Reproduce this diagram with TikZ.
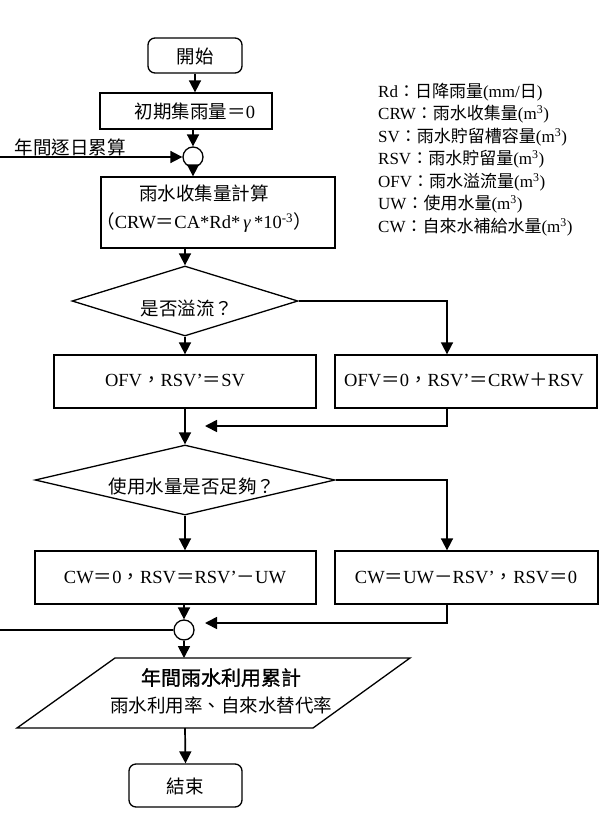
\documentclass[tikz,border=0pt]{standalone}
\usepackage{fontspec}
\setmainfont{Liberation Serif}
\newfontfamily\cjk{Noto Sans CJK TC}
\newfontfamily\cjkbold[FakeBold=1.2]{Noto Sans CJK TC}
\usetikzlibrary{arrows.meta,shapes.geometric}
\newcommand{\zh}[1]{{\cjk #1}}
\begin{document}
\begin{tikzpicture}[x=1pt,y=-1pt,
  shapebox/.style={draw,line width=1.3pt,inner sep=0pt,rectangle},
  roundbox/.style={shapebox,rounded corners=7pt},
  dia/.style={draw,line width=1.3pt,inner sep=0pt,diamond},
  joint/.style={draw,line width=1.3pt,inner sep=0pt,circle,minimum size=20pt},
  conn/.style={line width=1.7pt,-{Triangle[length=12pt,width=12pt]}},
  plainline/.style={line width=1.7pt},
  txt/.style={font=\fontsize{18.5}{22}\selectfont,inner sep=0pt,align=center},
  legendtxt/.style={font=\fontsize{17}{22.5}\selectfont,inner sep=0pt,align=left}]
\useasboundingbox (0,0) rectangle (604,814);

% shapes
\node[roundbox,minimum width=94pt,minimum height=35pt] (start) at (195,55.5) {};
\node[shapebox,minimum width=172pt,minimum height=36pt] (init) at (186,111) {};
\node[joint] (c1) at (193,157) {};
\node[shapebox,minimum width=234pt,minimum height=71pt] (crw) at (218,212.5) {};
\node[dia,minimum width=226pt,minimum height=70pt] (d1) at (185,301) {};
\node[shapebox,minimum width=262pt,minimum height=53pt] (b1L) at (185,381.5) {};
\node[shapebox,minimum width=262pt,minimum height=53pt] (b1R) at (466,381.5) {};
\node[dia,minimum width=300pt,minimum height=70pt] (d2) at (185,480) {};
\node[shapebox,minimum width=281pt,minimum height=53pt] (b2L) at (175.5,577.5) {};
\node[shapebox,minimum width=263pt,minimum height=53pt] (b2R) at (466.5,577.5) {};
\node[joint] (c2) at (184,630) {};
\coordinate (ptl) at (115,658);
\coordinate (ptr) at (410,658);
\coordinate (pbr) at (313,728);
\coordinate (pbl) at (17,728);
\draw[line width=1.3pt] (ptl) -- (ptr) -- (pbr) -- (pbl) -- cycle;
\node[roundbox,minimum width=113pt,minimum height=43pt] (end) at (185.5,785.5) {};

% texts
\node[txt] (tstart) at (195,56) {\zh{開始}};
\node[txt] (tinit) at (195,111) {\zh{初期集雨量＝}0};
\node[txt] (tloop) at (70,147) {\zh{年間逐日累算}};
\node[txt,font=\fontsize{18.5}{28}\selectfont] (tcrw) at (204,209) {\zh{雨水收集量計算}\\\zh{（}CRW\zh{＝}CA*Rd*\,\textit{γ}\,*10\textsuperscript{-3}\zh{）}};
\node[txt] (td1) at (187,308) {\zh{是否溢流？}};
\node[txt] (tb1L) at (175,380) {OFV\zh{，}RSV’\zh{＝}SV};
\node[txt] (tb1R) at (464,380) {OFV\zh{＝}0\zh{，}RSV’\zh{＝}CRW\zh{＋}RSV};
\node[txt] (td2) at (192,486) {\zh{使用水量是否足夠？}};
\node[txt] (tb2L) at (175,577) {CW\zh{＝}0\zh{，}RSV\zh{＝}RSV’\zh{－}UW};
\node[txt] (tb2R) at (466,577) {CW\zh{＝}UW\zh{－}RSV’\zh{，}RSV\zh{＝}0};
\node[txt,font=\fontsize{18.5}{27}\selectfont] (tpar) at (221,691) {{\fontsize{20}{27}\selectfont\cjkbold 年間雨水利用累計}\\\zh{雨水利用率、自來水替代率}};
\node[txt] (tend) at (185,786) {\zh{結束}};
\node[legendtxt,anchor=west] (legend) at (378,159.5) {%
Rd\zh{：日降雨量}(mm/\zh{日})\\
CRW\zh{：雨水收集量}(m\textsuperscript{3})\\
SV\zh{：雨水貯留槽容量}(m\textsuperscript{3})\\
RSV\zh{：雨水貯留量}(m\textsuperscript{3})\\
OFV\zh{：雨水溢流量}(m\textsuperscript{3})\\
UW\zh{：使用水量}(m\textsuperscript{3})\\
CW\zh{：自來水補給水量}(m\textsuperscript{3})};

% connectors
\coordinate (rx) at (447,0);
\coordinate (in1) at (0,157);
\coordinate (in2) at (0,630);
\coordinate (m1) at (205,426);
\coordinate (m2) at (205,623);
\coordinate (ptop) at (185,658);
\coordinate (pbot) at (185,728);

\draw[conn] (start.south) -- (start.south |- init.north);
\draw[conn] (c1 |- init.south) -- (c1.north);
\draw[conn] (in1) -- (c1.west);
\draw[conn] (c1.south) -- (c1 |- crw.north);
\draw[conn] (d1 |- crw.south) -- (d1.north);
\draw[conn] (d1.south) -- (d1.south |- b1L.north);
\draw[conn] (d1.east) -| (b1R.north -| rx);
\draw[conn] (d1 |- b1L.south) -- (d2.north);
\draw[conn] (b1R.south -| rx) |- (m1);
\draw[conn] (d2.south) -- (d2.south |- b2L.north);
\draw[conn] (d2.east) -| (b2R.north -| rx);
\draw[conn] (c2 |- b2L.south) -- (c2.north);
\draw[conn] (b2R.south -| rx) |- (m2);
\draw[plainline] (in2) -- (c2.west);
\draw[conn] (c2.south) -- (c2 |- ptop);
\draw[conn] (pbot) -- (end.north);
\end{tikzpicture}
\end{document}
